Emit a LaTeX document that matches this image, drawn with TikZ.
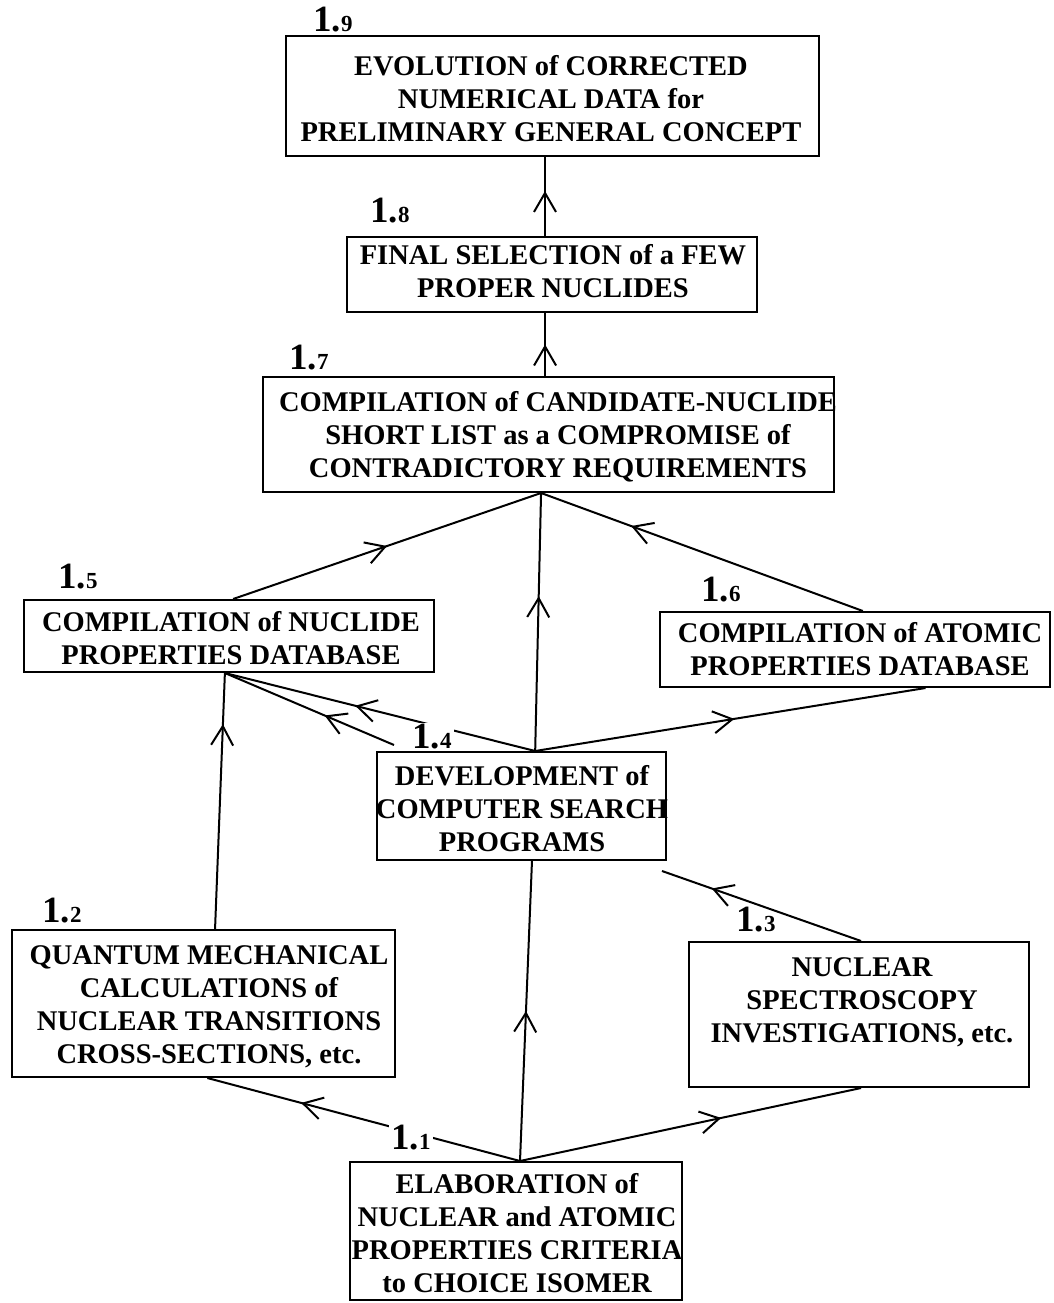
\documentclass[tikz,border=0pt]{standalone}
\usepackage{fontspec}
\setmainfont{Liberation Serif}
\usetikzlibrary{arrows.meta,decorations.markings,calc}
\newcommand\numlab[1]{{\fontsize{37}{37}\selectfont 1.}{\fontsize{23}{23}\selectfont #1}}
\begin{document}
\begin{tikzpicture}[x=1pt,y=-1pt,
  frame/.style={draw,line width=2pt,inner sep=0pt},
  txt/.style={align=center,inner sep=0pt,font=\bfseries\fontsize{28.5}{33}\selectfont},
  num/.style={inner sep=2pt,font=\bfseries},
  conn/.style={line width=2pt},
  midarrow/.style={conn,postaction={decorate},decoration={markings,mark=at position #1 with {\arrow{Straight Barb[length=19pt,width=22pt,line width=2pt]}}}}
]
\useasboundingbox (0,0) rectangle (1054,1303);

% frames
\node[frame,minimum width=533pt,minimum height=120pt] (b9) at (552.5,96) {};
\node[frame,minimum width=410pt,minimum height=75pt] (b8) at (552,274.5) {};
\node[frame,minimum width=571pt,minimum height=115pt] (b7) at (548.5,434.5) {};
\node[frame,minimum width=410pt,minimum height=72pt] (b5) at (229,636) {};
\node[frame,minimum width=390pt,minimum height=75pt] (b6) at (855,649.5) {};
\node[frame,minimum width=289pt,minimum height=108pt] (b4) at (521.5,806) {};
\node[frame,minimum width=383pt,minimum height=147pt] (b2) at (203.5,1003.5) {};
\node[frame,minimum width=340pt,minimum height=145pt] (b3) at (859,1014.5) {};
\node[frame,minimum width=332pt,minimum height=138pt] (b1) at (516,1231) {};

% texts
\node[txt] (t9) at (551,99) {EVOLUTION of CORRECTED\\NUMERICAL DATA for\\PRELIMINARY GENERAL CONCEPT};
\node[txt] (t8) at (553,271) {FINAL SELECTION of a FEW\\PROPER NUCLIDES};
\node[txt] (t7) at (558,437) {COMPILATION of CANDIDATE-NUCLIDE\\SHORT LIST as a COMPROMISE of\\CONTRADICTORY REQUIREMENTS};
\node[txt] (t5) at (231,638) {COMPILATION of NUCLIDE\\PROPERTIES DATABASE};
\node[txt] (t6) at (860,649) {COMPILATION of ATOMIC\\PROPERTIES DATABASE};
\node[txt] (t4) at (522,809) {DEVELOPMENT of\\COMPUTER SEARCH\\PROGRAMS};
\node[txt] (t2) at (209,1007) {QUANTUM MECHANICAL\\CALCULATIONS of\\NUCLEAR TRANSITIONS\\CROSS-SECTIONS, etc.};
\node[txt] (t3) at (862,1002) {NUCLEAR\\SPECTROSCOPY\\INVESTIGATIONS, etc.};
\node[txt] (t1) at (517,1233) {ELABORATION of\\NUCLEAR and ATOMIC\\PROPERTIES CRITERIA\\to CHOICE ISOMER};

% connection points
\coordinate (p8t) at ($(b8.north west)!0.483!(b8.north east)$);
\coordinate (p7t) at ($(b7.north west)!0.494!(b7.north east)$);
\coordinate (a7) at ($(b7.south west)!0.487!(b7.south east)$);
\coordinate (p5t) at ($(b5.north west)!0.51!(b5.north east)$);
\coordinate (p5b) at ($(b5.south west)!0.49!(b5.south east)$);
\coordinate (p6t) at ($(b6.north west)!0.52!(b6.north east)$);
\coordinate (p6b) at ($(b6.south west)!0.68!(b6.south east)$);
\coordinate (a4) at ($(b4.north west)!0.547!(b4.north east)$);
\coordinate (p4b) at ($(b4.south west)!0.536!(b4.south east)$);
\coordinate (c4) at ($(b4.north west)+(18,-6)$);
\coordinate (e4) at ($(b4.south east)+(-5,10)$);
\coordinate (p2t) at ($(b2.north west)!0.53!(b2.north east)$);
\coordinate (p2b) at ($(b2.south west)!0.51!(b2.south east)$);
\coordinate (p3t) at ($(b3.north west)!0.506!(b3.north east)$);
\coordinate (p3b) at ($(b3.south west)!0.506!(b3.south east)$);
\coordinate (a1) at ($(b1.north west)!0.512!(b1.north east)$);

% connectors
\draw[midarrow=0.57] (p8t) -- (p8t |- b9.south);
\draw[midarrow=0.5] (p7t) -- (p7t |- b8.south);
\draw[midarrow=0.6] (a4) -- (a7);
\draw[midarrow=0.5] (p5t) -- (a7);
\draw[midarrow=0.72] (p6t) -- (a7);
\draw[midarrow=0.51] (a4) -- (p6b);
\draw[midarrow=0.58] (a4) -- (p5b);
\draw[midarrow=0.41] (c4) -- (p5b);
\draw[midarrow=0.8] (p2t) -- (p5b);
\draw[midarrow=0.5] (a1) -- (p4b);
\draw[midarrow=0.7] (a1) -- (p2b);
\draw[midarrow=0.75] (p3t) -- (e4);
\draw[midarrow=0.59] (a1) -- (p3b);

% number labels
\node[num] (l9) at (333,20) {\numlab{9}};
\node[num] (l8) at (390,211) {\numlab{8}};
\node[num] (l7) at (309,358) {\numlab{7}};
\node[num] (l5) at (78,577) {\numlab{5}};
\node[num] (l6) at (721,590) {\numlab{6}};
\node[num,fill=white] (l4) at (432,737) {\numlab{4}};
\node[num] (l2) at (62,911) {\numlab{2}};
\node[num] (l3) at (756,920) {\numlab{3}};
\node[num,fill=white] (l1) at (411,1138) {\numlab{1}};
\end{tikzpicture}
\end{document}
